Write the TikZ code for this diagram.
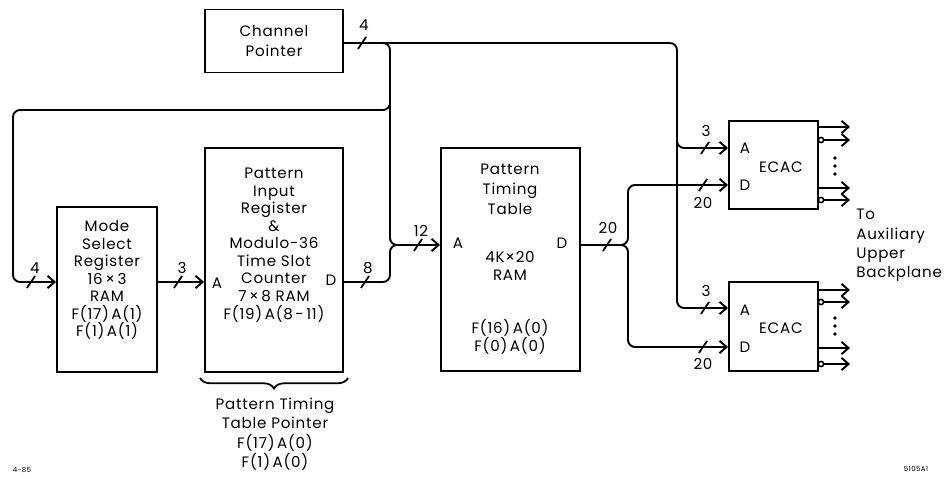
\documentclass[tikz,border=0pt]{standalone}
\usepackage{fontspec}
\setmainfont{Poppins}[LetterSpace=5]
\usetikzlibrary{arrows.meta,decorations.pathreplacing}

\begin{document}
\begin{tikzpicture}[
			x=0.02cm, y=-0.02cm,
			font=\fontsize{8.6}{10}\selectfont,
			blocco/.style={draw=black, line width=1.1pt, inner sep=0pt},
			filo/.style={line width=1.1pt, rounded corners=4pt},
			freccia/.style={filo,
				-{Straight Barb[length=4pt, width=7pt, line width=1.1pt]}},
			testo/.style={align=center, inner sep=0pt},
			bolla/.style={circle, fill=white, draw=black,
				inner sep=0pt, minimum size=3pt, line width=0.9pt},
			tacca/.pic={\draw[line width=1pt] (-2.3pt,-3.4pt) -- (2.3pt,3.4pt);},
			]
			\useasboundingbox (0,0) rectangle (948,479);
			
			% blocchi
			\node[blocco, minimum width=2.76cm, minimum height=1.26cm] (chp) at (274,41) {};
			\node[blocco, minimum width=2.00cm, minimum height=3.30cm] (msr) at (107,289.5) {};
			\node[blocco, minimum width=2.76cm, minimum height=4.48cm] (pir) at (274,260) {};
			\node[blocco, minimum width=2.78cm, minimum height=4.46cm] (ptt) at (510.5,259.5) {};
			\node[blocco, minimum width=1.78cm, minimum height=1.76cm] (ecac1) at (773.5,165) {};
			\node[blocco, minimum width=1.78cm, minimum height=1.78cm] (ecac2) at (773.5,326.5) {};
			
			% testi nei blocchi
			\node[testo, font=\fontsize{8.6}{11.5}\selectfont] (chptxt) at (chp) {Channel\\Pointer};
			\node[testo] (msrtxt) at (107,280) {Mode\\Select\\Register\\16\,×\,3\\RAM\\F(17)\,A(1)\\F(1)\,A(1)};
			\node[testo] (pirtxt) at (274,245) {Pattern\\Input\\Register\\\&\\Modulo-36\\Time Slot\\Counter\\7\,×\,8 RAM\\F(19)\,A(8\,-\,11)};
			\node[testo] (pirA) at (217,283) {A};
			\node[testo] (pirD) at (331,280) {D};
			\node[testo] (ptttxt) at (510,189) {Pattern\\[1.4pt]Timing\\[1.4pt]Table};
			\node[testo] (pttram) at (510,266) {4K×20\\RAM};
			\node[testo] (pttf) at (510,337) {F(16)\,A(0)\\F(0)\,A(0)};
			\node[testo] (pttA) at (458,243) {A};
			\node[testo] (pttD) at (562,243) {D};
			\node[testo] (e1txt) at (781,167) {ECAC};
			\node[testo] (e1A) at (745,148) {A};
			\node[testo] (e1D) at (745,185) {D};
			\node[testo] (e2txt) at (781,328) {ECAC};
			\node[testo] (e2A) at (745,310) {A};
			\node[testo] (e2D) at (745,347) {D};
			
			% collegamenti
			\draw[freccia] (chp.east |- 0,43) -- (677,43) -- (677,308) -- (ecac2.west |- 0,308);
			\draw[freccia] (677,130) -- (677,148) -- (ecac1.west |- 0,148);
			\draw[freccia] (chp.east |- 0,43) -- (390,43) -- (390,110) -- (13,110)
				-- (13,282) -- (msr.west |- 0,282);
			\draw[freccia] (390,100) -- (390,245) -- (ptt.west |- 0,245);
			\draw[filo] (pir.east |- 0,282) -- (390,282) -- (390,245) -- (420,245);
			\draw[freccia] (msr.east |- 0,282) -- (pir.west |- 0,282);
			\draw[freccia] (ptt.east |- 0,245) -- (628,245) -- (628,185) -- (ecac1.west |- 0,185);
			\draw[freccia] (ptt.east |- 0,245) -- (628,245) -- (628,347) -- (ecac2.west |- 0,347);
			
			% larghezze dei bus
			\foreach \sx/\sy/\lab/\lx/\ly in {362/43/4/364/25, 705/148/3/706/131,
				703/185/20/703/203, 705/308/3/706/291, 703/347/20/703/364,
				31/282/4/35/268, 178/282/3/182/268, 365/282/8/368/268,
				418/245/12/421/231, 607/245/20/608/228}
			{
				\pic at (\sx,\sy) {tacca};
				\node[testo] (w-\sx-\sy) at (\lx,\ly) {\lab};
			}
			
			% uscite ECAC
			\foreach \yy in {127,188} \draw[freccia] (ecac1.east |- 0,\yy) -- (850,\yy);
			\foreach \yy in {290,348} \draw[freccia] (ecac2.east |- 0,\yy) -- (850,\yy);
			\foreach \yy in {140,200} {
				\node[bolla] (b1-\yy) at (821,\yy) {};
				\draw[freccia] (b1-\yy.east) -- (850,\yy);
			}
			\foreach \yy in {302,364} {
				\node[bolla] (b2-\yy) at (821,\yy) {};
				\draw[freccia] (b2-\yy.east) -- (850,\yy);
			}
			\foreach \yy in {158,166,174,318,326,334}
				\fill (835,\yy) circle (1.1pt);
			
			% graffa
			\draw[decorate, decoration={brace, amplitude=6pt}, line width=1pt]
				(348,378) -- (200,378);
			\node[testo, font=\fontsize{8.6}{11}\selectfont] (ptp) at (275,434)
				{Pattern Timing\\Table Pointer\\F(17)\,A(0)\\F(1)\,A(0)};
			
			\node[testo, align=left, anchor=north west,
				font=\fontsize{8.6}{11}\selectfont] (aux) at (856,209)
				{To\\Auxiliary\\Upper\\Backplane};
			
			% sigle
			\node[testo, font=\fontsize{4}{5}\selectfont] (sig1) at (22,470) {4-85};
			\node[testo, font=\fontsize{4}{5}\selectfont] (sig2) at (916,469) {5105A1};
			
		\end{tikzpicture}
\end{document}
